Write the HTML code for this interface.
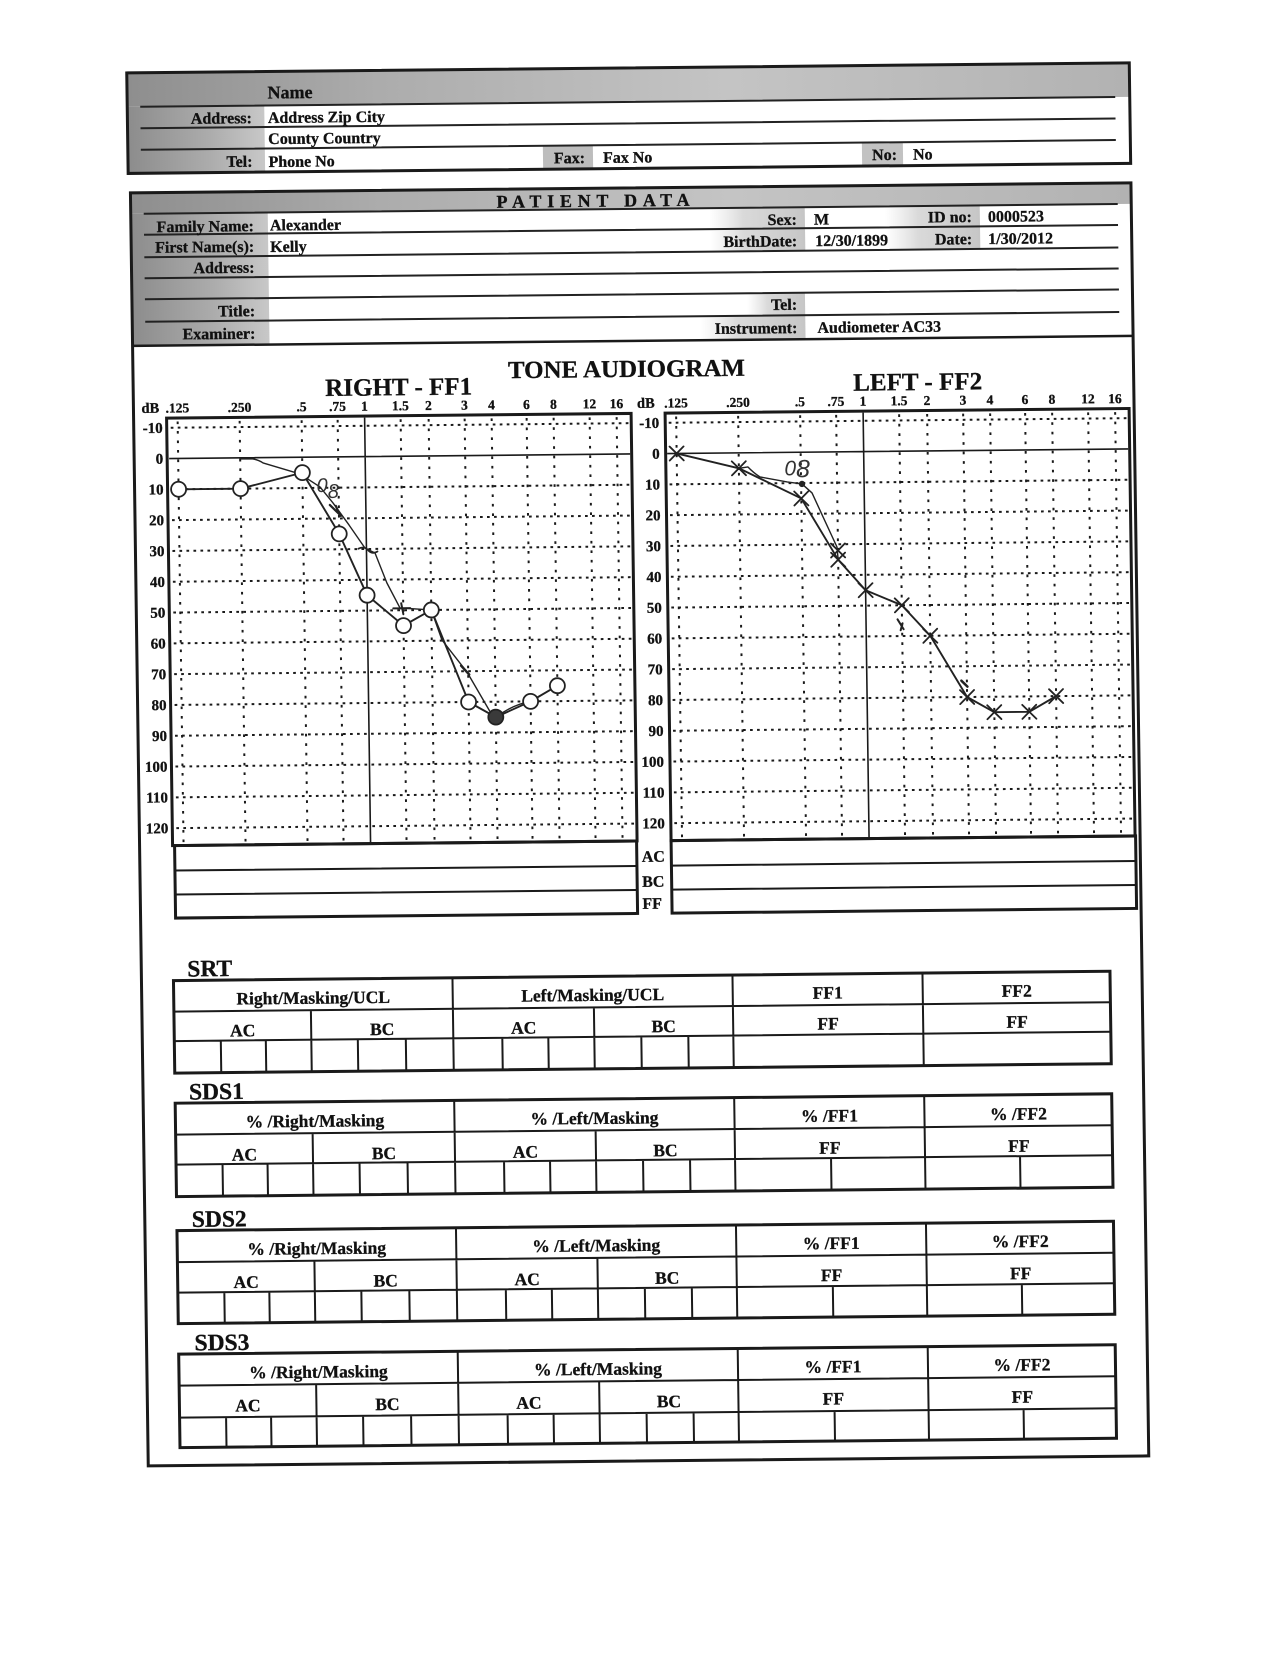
<!DOCTYPE html>
<html><head><meta charset="utf-8"><style>
html,body{margin:0;padding:0;background:#fff;}
svg{display:block;}
svg text{stroke:#111;stroke-width:0.3px;}
svg text.hw{stroke:none;}
</style></head><body>
<svg width="1264" height="1664" viewBox="0 0 1264 1664" xmlns="http://www.w3.org/2000/svg">
<defs>
<linearGradient id="band" x1="0" x2="1" y1="0" y2="0">
<stop offset="0" stop-color="#8e8e8e"/><stop offset="0.25" stop-color="#acacac"/><stop offset="0.6" stop-color="#c4c4c4"/><stop offset="1" stop-color="#b2b2b2"/>
</linearGradient>
<linearGradient id="col" x1="0" x2="1" y1="0" y2="0">
<stop offset="0" stop-color="#8c8c8c"/><stop offset="0.6" stop-color="#acacac"/><stop offset="1" stop-color="#c8c8c8"/>
</linearGradient>
<linearGradient id="patch" x1="0" x2="1" y1="0" y2="0">
<stop offset="0" stop-color="#d8d8d8" stop-opacity="0"/><stop offset="0.35" stop-color="#d0d0d0" stop-opacity="0.8"/><stop offset="1" stop-color="#c6c6c6"/>
</linearGradient>
</defs>
<rect width="1264" height="1664" fill="#fff"/>
<g transform="matrix(1,-0.01,0.014,1,-11.2,6.3)" font-family="'Liberation Serif', serif" font-weight="bold" fill="#111">

<!-- TOP BOX -->
<rect x="137" y="68" width="1002.5" height="34" fill="url(#band)"/>
<rect x="137" y="102" width="137" height="66.5" fill="url(#col)"/>
<rect x="552" y="145" width="50" height="23.5" fill="#bdbdbd"/>
<rect x="871" y="145" width="41" height="23.5" fill="#c2c2c2"/>
<path d="M150 102H1125M150 123.5H1125M150 145H1125" stroke="#222" stroke-width="2" fill="none"/>
<rect x="137" y="68" width="1002.5" height="100.5" fill="none" stroke="#1a1a1a" stroke-width="3"/>
<text x="277.5" y="95" font-size="18">Name</text>
<text x="261.5" y="119.5" font-size="16" text-anchor="end">Address:</text>
<text x="277.5" y="119.5" font-size="16">Address Zip City</text>
<text x="277.5" y="140.5" font-size="16">County Country</text>
<text x="261.5" y="163" font-size="16" text-anchor="end">Tel:</text>
<text x="277.5" y="163.5" font-size="16">Phone No</text>
<text x="594" y="162.7" font-size="16" text-anchor="end">Fax:</text>
<text x="612" y="162.7" font-size="16">Fax No</text>
<text x="906" y="162.6" font-size="16" text-anchor="end">No:</text>
<text x="922" y="162.6" font-size="16">No</text>

<!-- PATIENT BOX -->
<rect x="139" y="188" width="1000.5" height="21" fill="url(#band)"/>
<rect x="139" y="209" width="137" height="132" fill="url(#col)"/>
<rect x="718" y="209" width="95" height="43.5" fill="url(#patch)"/>
<rect x="893" y="209" width="95" height="43.5" fill="url(#patch)"/>
<rect x="754" y="294.5" width="58" height="22.5" fill="url(#patch)"/>
<rect x="707" y="317" width="105" height="24" fill="url(#patch)"/>
<path d="M152 209H1126M152 230H1126M152 252.5H1126M152 273.5H1126M152 294.5H1126M152 317H1126" stroke="#222" stroke-width="2" fill="none"/>
<path d="M139 341H1139.5" stroke="#1a1a1a" stroke-width="2.5"/>
<rect x="139" y="188" width="1000.5" height="1273" fill="none" stroke="#1a1a1a" stroke-width="3"/>
<text x="505" y="206.5" font-size="18" textLength="193" lengthAdjust="spacing">PATIENT DATA</text>
<text x="262" y="227.5" font-size="16" text-anchor="end">Family Name:</text>
<text x="278" y="227" font-size="16">Alexander</text>
<text x="262" y="248" font-size="16" text-anchor="end">First Name(s):</text>
<text x="278" y="248.5" font-size="16">Kelly</text>
<text x="262" y="269" font-size="16" text-anchor="end">Address:</text>
<text x="262" y="312.5" font-size="16" text-anchor="end">Title:</text>
<text x="262" y="335" font-size="16" text-anchor="end">Examiner:</text>
<text x="805" y="226.5" font-size="16" text-anchor="end">Sex:</text>
<text x="822" y="226.5" font-size="16">M</text>
<text x="805" y="248" font-size="16" text-anchor="end">BirthDate:</text>
<text x="823" y="248" font-size="16">12/30/1899</text>
<text x="980" y="225.5" font-size="16" text-anchor="end">ID no:</text>
<text x="996" y="225.5" font-size="16">0000523</text>
<text x="980" y="247.7" font-size="16" text-anchor="end">Date:</text>
<text x="996" y="247.7" font-size="16">1/30/2012</text>
<text x="804" y="311.5" font-size="16" text-anchor="end">Tel:</text>
<text x="804" y="334.8" font-size="16" text-anchor="end">Instrument:</text>
<text x="824" y="334.8" font-size="16">Audiometer AC33</text>

<!-- TITLES -->
<text x="514" y="377" font-size="24.5" textLength="237" lengthAdjust="spacingAndGlyphs">TONE AUDIOGRAM</text>
<text x="331" y="393" font-size="25" textLength="147" lengthAdjust="spacingAndGlyphs">RIGHT - FF1</text>
<text x="859" y="393" font-size="25" textLength="129" lengthAdjust="spacingAndGlyphs">LEFT - FF2</text>

<!-- LEFT CHART -->
<g fill="none" stroke="#1a1a1a">
<path d="M176 423.2H634M176 484.8H634M176 515.6H634M176 546.4H634M176 577.2H634M176 608H634M176 638.8H634M176 669.6H634M176 700.4H634M176 731.2H634M176 762H634M176 792.8H634M176 823.6H634" stroke-width="2" stroke-dasharray="2.7 4.3"/>
<path d="M183 417V838M245 417V838M307 417V838M343 417V838M406 417V838M434 417V838M470 417V838M497 417V838M532 417V838M559 417V838M595 417V838M622 417V838" stroke-width="2" stroke-dasharray="2.7 6.8"/>
<path d="M174 454H635M370 415V840" stroke-width="1.6"/>
<rect x="172" y="413.5" width="464.5" height="427.5" stroke-width="3"/>
<rect x="174" y="841" width="462" height="72.5" stroke-width="3"/>
<path d="M174 866H636M174 890H636" stroke-width="2"/>
</g>
<!-- RIGHT CHART -->
<g fill="none" stroke="#1a1a1a">
<path d="M674 423.2H1132M674 484.8H1132M674 515.6H1132M674 546.4H1132M674 577.2H1132M674 608H1132M674 638.8H1132M674 669.6H1132M674 700.4H1132M674 731.2H1132M674 762H1132M674 792.8H1132M674 823.6H1132" stroke-width="2" stroke-dasharray="2.7 4.3"/>
<path d="M681.5 417V838M743.5 417V838M805.5 417V838M841.5 417V838M904.5 417V838M932.5 417V838M968.5 417V838M995.5 417V838M1030.5 417V838M1057.5 417V838M1093.5 417V838M1120.5 417V838" stroke-width="2" stroke-dasharray="2.7 6.8"/>
<path d="M672 454H1133M868.5 415V840" stroke-width="1.6"/>
<rect x="670.5" y="413.5" width="464" height="427.5" stroke-width="3"/>
<rect x="670.5" y="841" width="464.5" height="72.5" stroke-width="3"/>
<path d="M670.5 866H1135M670.5 890H1135" stroke-width="2"/>
</g>

<!-- frequency labels -->
<g font-size="13.5" text-anchor="middle">
<text x="183" y="408">.125</text><text x="245" y="408">.250</text><text x="307" y="408">.5</text><text x="343" y="408">.75</text><text x="370" y="408">1</text><text x="406" y="408">1.5</text><text x="434" y="408">2</text><text x="470" y="408">3</text><text x="497" y="408">4</text><text x="532" y="408">6</text><text x="559" y="408">8</text><text x="595" y="408">12</text><text x="622" y="408">16</text>
<text x="681.5" y="408">.125</text><text x="743.5" y="408">.250</text><text x="805.5" y="408">.5</text><text x="841.5" y="408">.75</text><text x="868.5" y="408">1</text><text x="904.5" y="408">1.5</text><text x="932.5" y="408">2</text><text x="968.5" y="408">3</text><text x="995.5" y="408">4</text><text x="1030.5" y="408">6</text><text x="1057.5" y="408">8</text><text x="1093.5" y="408">12</text><text x="1120.5" y="408">16</text>
</g>
<text x="147" y="408" font-size="14.5">dB</text>
<text x="642.5" y="408" font-size="14.5">dB</text>
<g font-size="15" text-anchor="end">
<text x="168" y="428.2">-10</text><text x="168" y="459">0</text><text x="168" y="489.8">10</text><text x="168" y="520.6">20</text><text x="168" y="551.4">30</text><text x="168" y="582.2">40</text><text x="168" y="613">50</text><text x="168" y="643.8">60</text><text x="168" y="674.6">70</text><text x="168" y="705.4">80</text><text x="168" y="736.2">90</text><text x="168" y="767">100</text><text x="168" y="797.8">110</text><text x="168" y="828.6">120</text>
<text x="664.5" y="428.2">-10</text><text x="664.5" y="459">0</text><text x="664.5" y="489.8">10</text><text x="664.5" y="520.6">20</text><text x="664.5" y="551.4">30</text><text x="664.5" y="582.2">40</text><text x="664.5" y="613">50</text><text x="664.5" y="643.8">60</text><text x="664.5" y="674.6">70</text><text x="664.5" y="705.4">80</text><text x="664.5" y="736.2">90</text><text x="664.5" y="767">100</text><text x="664.5" y="797.8">110</text><text x="664.5" y="828.6">120</text>
</g>
<g font-size="16">
<text x="641" y="862">AC</text><text x="641" y="887">BC</text><text x="641" y="909">FF</text>
</g>

<!-- LEFT DATA -->
<g fill="none" stroke="#222" stroke-linejoin="round" stroke-linecap="round">
<path d="M244.8 455.1L257.6 455.2Q263 456 267.8 459.3L304.6 470.7L324.4 483.9L337.2 500L352.9 522.2L368.5 545.4L378.5 550.5L390 580.6L402.7 605.7L434 608L444.2 638.1L468.8 670.4L493.2 713.6L497 715.8Q515 703 532 700.4" stroke-width="1.4"/>
<polyline points="183,484.8 245,484.8 307,469.4 343,531 370,592.6 406,623.4 434,608 470,700.4 497,715.8 532,700.4 559,685" stroke-width="1.9"/>
<path d="M334 502L345 513M340 503L344 513" stroke-width="2.2"/>
<path d="M362 546Q368 543 372 548Q376 552 381 549" stroke-width="1.8"/>
<path d="M396 606H413M404 601L406 612" stroke-width="2"/>
<path d="M463 664L471 673" stroke-width="2.5"/>
<path d="M527 696L538 704M536 695L528 705" stroke-width="1.5"/>
</g>
<g fill="#fff" stroke="#222" stroke-width="1.8">
<circle cx="183" cy="484.8" r="7.5"/><circle cx="245" cy="484.8" r="7.5"/><circle cx="307" cy="469.4" r="7.5"/><circle cx="343" cy="531" r="7.5"/><circle cx="370" cy="592.6" r="7.5"/><circle cx="406" cy="623.4" r="7.5"/><circle cx="434" cy="608" r="7.5"/><circle cx="470" cy="700.4" r="7.5"/><circle cx="532" cy="700.4" r="7.5"/><circle cx="559" cy="685" r="7.5"/>
<circle cx="497" cy="715.8" r="7.5" fill="#3a3a3a"/>
</g>
<text class="hw" x="321" y="489" font-size="20" font-weight="normal" font-style="italic" font-family="'Liberation Sans', sans-serif" fill="#333">0<tspan dy="6">8</tspan></text>

<!-- RIGHT DATA -->
<g fill="none" stroke="#222" stroke-linejoin="round" stroke-linecap="round">
<path d="M743.5 469.4L752.6 468.2Q758 474 764.5 478.3L791.5 483.6L806.4 485.7L816.3 494.8L827 518.9L840.5 549.1L841.5 561.8" stroke-width="1.4"/>
<polyline points="681.5,454 743.5,469.4 805.5,500.2 841.5,561.8 868.5,592.6 904.5,608 932.5,638.8 968.5,700.4 995.5,715.8 1030.5,715.8 1057.5,700.4" stroke-width="1.9"/>
<path d="M674.5 447L688.5 461M688.5 447L674.5 461M736.5 462.4L750.5 476.4M750.5 462.4L736.5 476.4M798.5 493.2L812.5 507.2M812.5 493.2L798.5 507.2M834.5 545.6L848.5 559.6M848.5 545.6L834.5 559.6M834.5 554.8L848.5 568.8M848.5 554.8L834.5 568.8M861.5 585.6L875.5 599.6M875.5 585.6L861.5 599.6M897.5 601L911.5 615M911.5 601L897.5 615M925.5 631.8L939.5 645.8M939.5 631.8L925.5 645.8M961.5 693.4L975.5 707.4M975.5 693.4L961.5 707.4M988.5 708.8L1002.5 722.8M1002.5 708.8L988.5 722.8M1023.5 708.8L1037.5 722.8M1037.5 708.8L1023.5 722.8M1050.5 693.4L1064.5 707.4M1064.5 693.4L1050.5 707.4" stroke-width="1.8"/>
<path d="M900 622L906 632M905 626L903 633" stroke-width="2"/>
<path d="M963 684L969 690" stroke-width="2.5"/>
</g>
<circle cx="806.4" cy="485.7" r="3.2" fill="#222"/>
<text class="hw" x="789" y="477" font-size="21" font-weight="normal" font-style="italic" font-family="'Liberation Sans', sans-serif" fill="#333">0<tspan font-size="25" dy="2">8</tspan></text>

<!-- TABLES -->
<g fill="none" stroke="#1a1a1a">
<path d="M171 1007H1107.5M171 1036.5H1107.5M450 976V1068.5M730 976V1068.5M920 976V1068.5M308 1007V1068.5M591 1007V1068.5M217.5 1036.5V1068.5M262.5 1036.5V1068.5M354.5 1036.5V1068.5M402.5 1036.5V1068.5M499 1036.5V1068.5M545 1036.5V1068.5M638 1036.5V1068.5M685 1036.5V1068.5" stroke-width="2"/>
<rect x="171" y="976" width="936.5" height="92.5" stroke-width="3"/>
<path d="M171 1130H1107.5M171 1160H1107.5M450 1098.6V1192M730 1098.6V1192M920 1098.6V1192M308 1130V1192M591 1130V1192M217.5 1160V1192M262.5 1160V1192M354.5 1160V1192M402.5 1160V1192M499 1160V1192M545 1160V1192M638 1160V1192M685 1160V1192M826 1160V1192M1015 1160V1192" stroke-width="2"/>
<rect x="171" y="1098.6" width="936.5" height="93.4" stroke-width="3"/>
<path d="M171 1257.5H1107.5M171 1288H1107.5M450 1226V1319M730 1226V1319M920 1226V1319M308 1257.5V1319M591 1257.5V1319M217.5 1288V1319M262.5 1288V1319M354.5 1288V1319M402.5 1288V1319M499 1288V1319M545 1288V1319M638 1288V1319M685 1288V1319M826 1288V1319M1015 1288V1319" stroke-width="2"/>
<rect x="171" y="1226" width="936.5" height="93" stroke-width="3"/>
<path d="M171 1381H1107.5M171 1413H1107.5M450 1349.5V1443M730 1349.5V1443M920 1349.5V1443M308 1381V1443M591 1381V1443M217.5 1413V1443M262.5 1413V1443M354.5 1413V1443M402.5 1413V1443M499 1413V1443M545 1413V1443M638 1413V1443M685 1413V1443M826 1413V1443M1015 1413V1443" stroke-width="2"/>
<rect x="171" y="1349.5" width="936.5" height="93.5" stroke-width="3"/>
</g>

<g font-size="23.5">
<text x="185" y="972">SRT</text>
<text x="185" y="1095">SDS1</text>
<text x="186" y="1222.5">SDS2</text>
<text x="187" y="1346">SDS3</text>
</g>
<g font-size="17.5" text-anchor="middle">
<text x="310.5" y="1000.5">Right/Masking/UCL</text>
<text x="590" y="1000.5">Left/Masking/UCL</text>
<text x="825" y="1000.5">FF1</text>
<text x="1014" y="1000.5">FF2</text>
<text x="239.5" y="1032.5">AC</text><text x="379" y="1032.5">BC</text><text x="520.5" y="1032.5">AC</text><text x="660.5" y="1032.5">BC</text><text x="825" y="1031.5">FF</text><text x="1014" y="1031.5">FF</text>

<text x="310.5" y="1123.6">% /Right/Masking</text>
<text x="590" y="1123.6">% /Left/Masking</text>
<text x="825" y="1123.6">% /FF1</text>
<text x="1014" y="1123.6">% /FF2</text>
<text x="239.5" y="1156.6">AC</text><text x="379" y="1156.6">BC</text><text x="520.5" y="1156.6">AC</text><text x="660.5" y="1156.6">BC</text><text x="825" y="1155.6">FF</text><text x="1014" y="1155.6">FF</text>

<text x="310.5" y="1251">% /Right/Masking</text>
<text x="590" y="1251">% /Left/Masking</text>
<text x="825" y="1251">% /FF1</text>
<text x="1014" y="1251">% /FF2</text>
<text x="239.5" y="1284">AC</text><text x="379" y="1284">BC</text><text x="520.5" y="1284">AC</text><text x="660.5" y="1284">BC</text><text x="825" y="1283">FF</text><text x="1014" y="1283">FF</text>

<text x="310.5" y="1374.5">% /Right/Masking</text>
<text x="590" y="1374.5">% /Left/Masking</text>
<text x="825" y="1374.5">% /FF1</text>
<text x="1014" y="1374.5">% /FF2</text>
<text x="239.5" y="1407.5">AC</text><text x="379" y="1407.5">BC</text><text x="520.5" y="1407.5">AC</text><text x="660.5" y="1407.5">BC</text><text x="825" y="1406.5">FF</text><text x="1014" y="1406.5">FF</text>
</g>
</g>
</svg>
</body></html>
